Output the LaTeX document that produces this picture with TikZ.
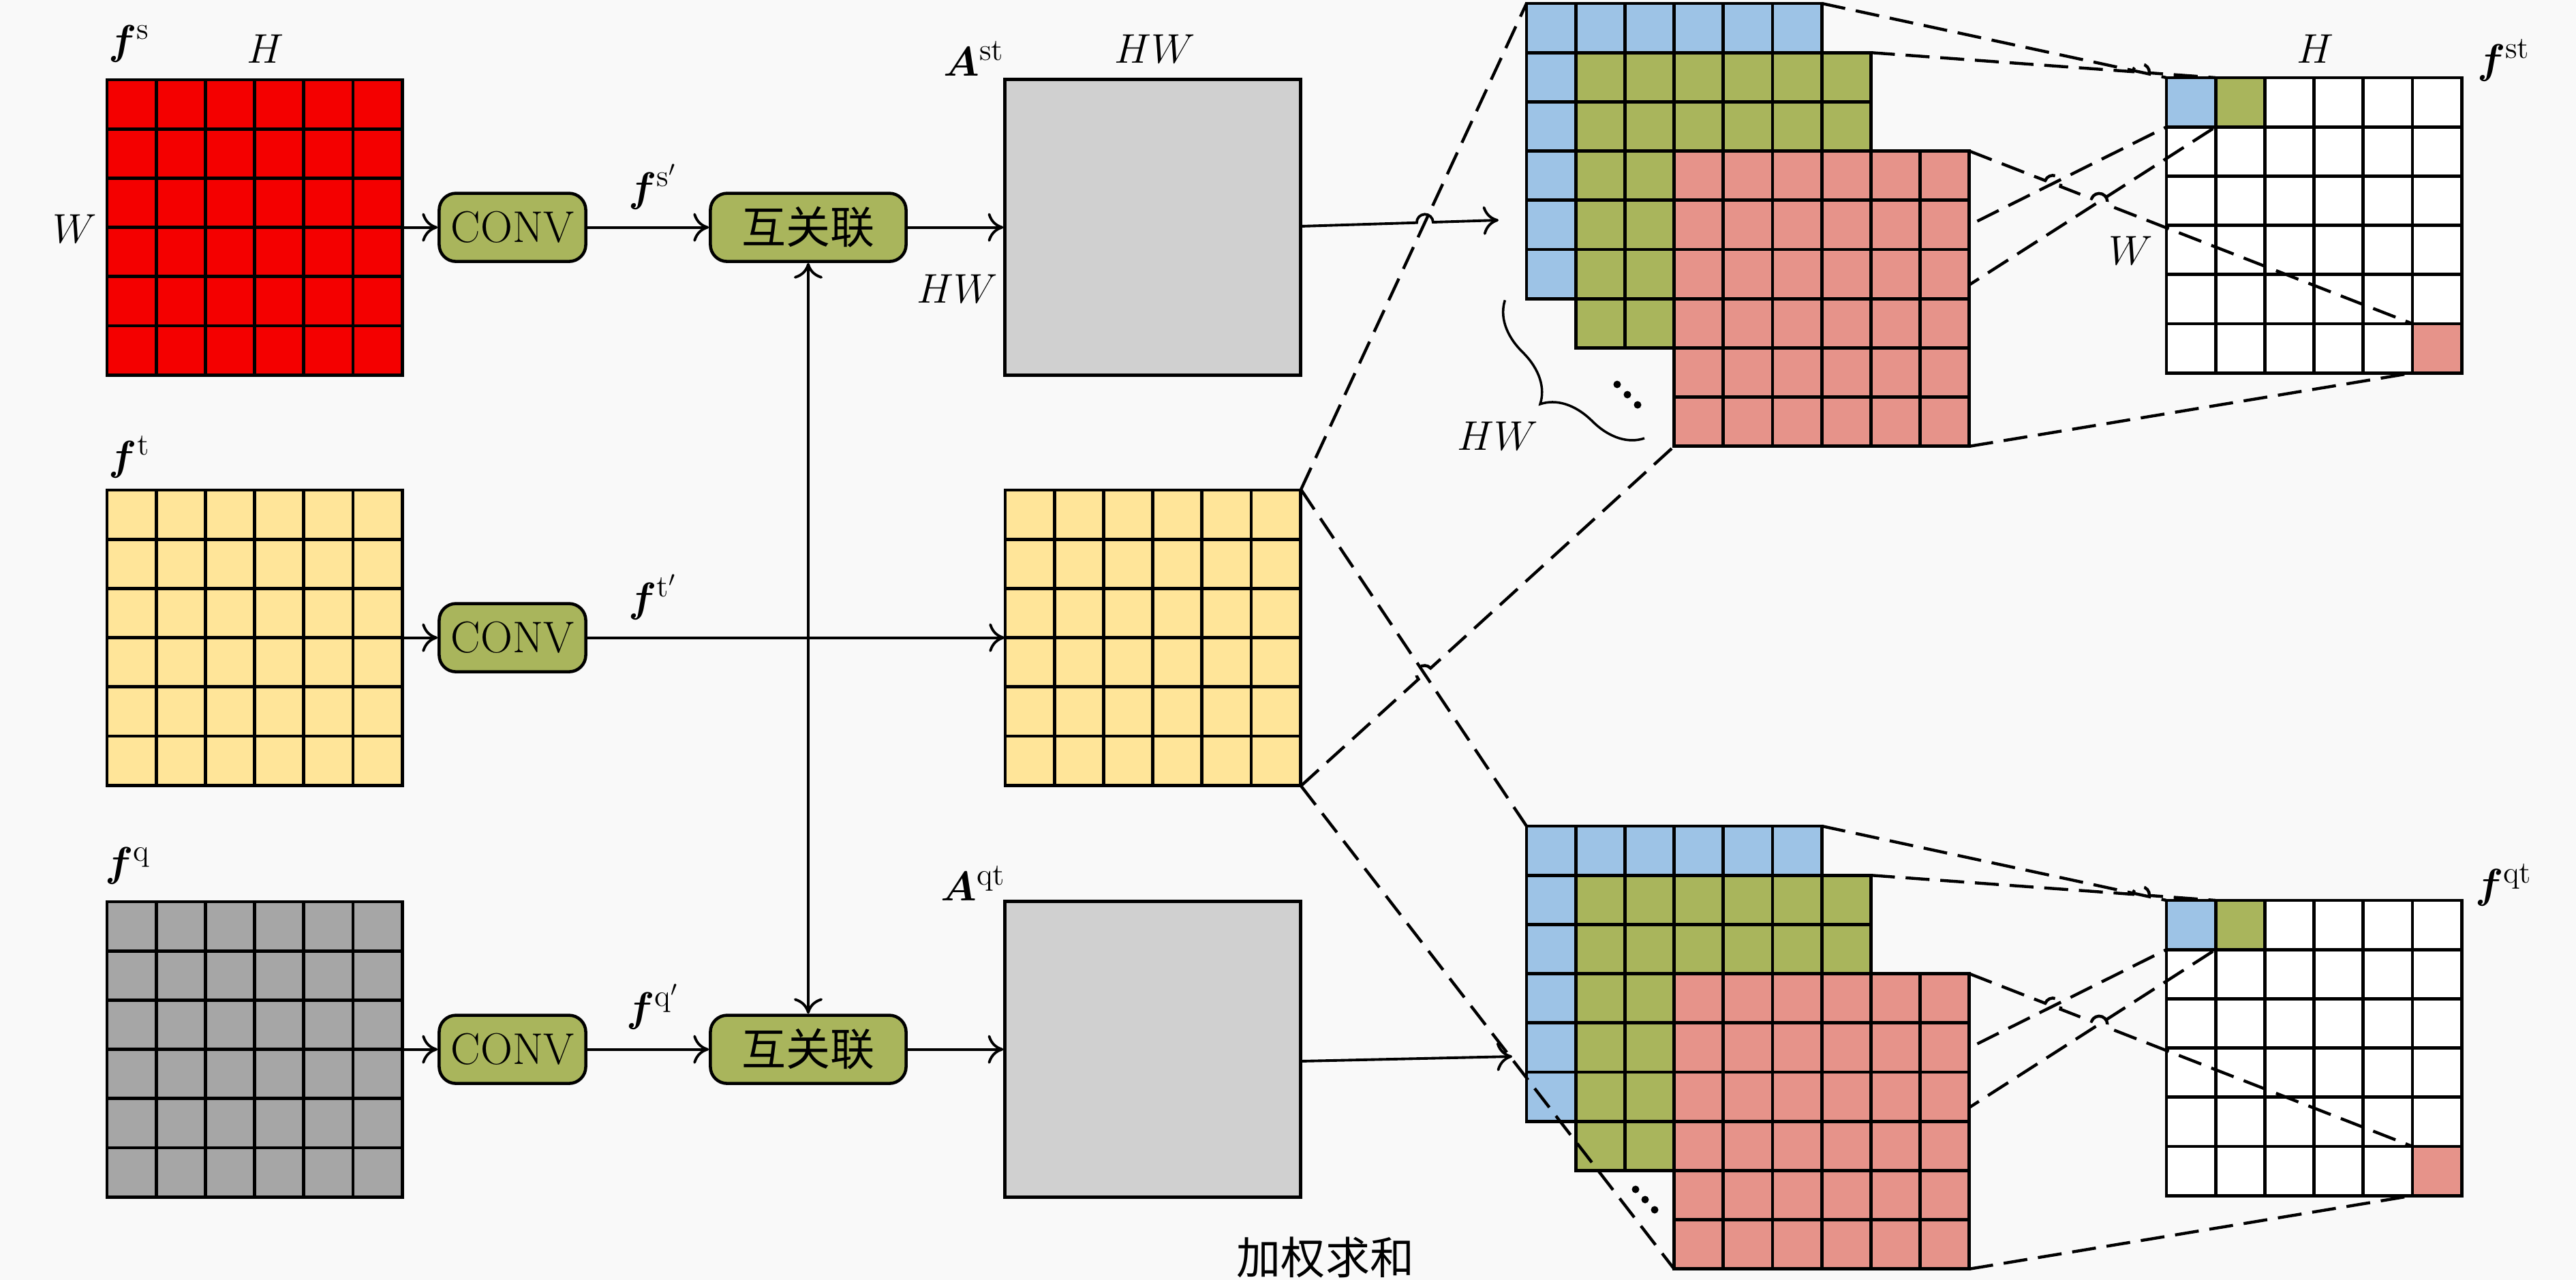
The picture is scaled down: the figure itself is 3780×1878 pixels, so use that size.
\documentclass[tikz,border=0pt]{standalone}
\usepackage{fontspec}
\usepackage{amsmath}
\usepackage{bm}
\usetikzlibrary{arrows.meta,calc,decorations.pathreplacing}
\newfontfamily\cjk{Noto Sans CJK SC}
\newcommand\lblsize{\fontsize{18.5}{22}\selectfont}
\definecolor{cred}{HTML}{F40000}
\definecolor{cyellow}{HTML}{FFE599}
\definecolor{cgray}{HTML}{A6A6A6}
\definecolor{cbox}{HTML}{D0D0D0}
\definecolor{cblue}{HTML}{9DC3E6}
\definecolor{cgreen}{HTML}{A9B55C}
\definecolor{csalmon}{HTML}{E6938A}
\definecolor{cbg}{HTML}{F9F9F9}
\tikzset{
  cellline/.style={line width=1.4pt, draw=black},
  conn/.style={line width=1.1pt, -{To[length=6.5pt,width=12pt]}},
  bconn/.style={line width=1.1pt, {To[length=6.5pt,width=12pt]}-{To[length=6.5pt,width=12pt]}},
  dline/.style={line width=1.25pt, dash pattern=on 10pt off 4.5pt},
  procbox/.style={draw, line width=1.3pt, fill=cgreen, rounded corners=7pt,
    minimum width=2.15cm, minimum height=1.0cm, inner sep=0pt, font=\lblsize},
  lbl/.style={font=\lblsize, inner sep=0pt},
  gridframe/.style={inner sep=0pt, minimum width=4.332cm, minimum height=4.332cm},
}
\newcommand\mygrid[5]{%
  \foreach \gi in {1,...,#3}{\foreach \gj in {1,...,#4}{%
    \draw[cellline, fill=#5] ({#1+(\gi-1)*72.2},{#2+(\gj-1)*72.2}) rectangle ++(72.2,72.2);}}}
\newcommand\hopone[4]{\draw[#1] let \p1=($(#4)-(#2)$), \n1={atan2(\y1,\x1)} in
  (#2) -- ($(#3)!0.12cm!(#2)$) arc[start angle=\n1+180, delta angle=-180, radius=0.12cm] -- (#4);}
\newcommand\hoptwo[5]{\draw[#1] let \p1=($(#5)-(#2)$), \n1={atan2(\y1,\x1)} in
  (#2) -- ($(#3)!0.12cm!(#2)$) arc[start angle=\n1+180, delta angle=-180, radius=0.12cm]
  -- ($(#4)!0.12cm!(#2)$) arc[start angle=\n1+180, delta angle=-180, radius=0.12cm] -- (#5);}
\begin{document}
\begin{tikzpicture}[x=0.01cm, y=-0.01cm]
\useasboundingbox (0,0) rectangle (3780,1878);
\fill[cbg] (0,0) rectangle (3780,1878);

% left input grids
\mygrid{157}{117}{6}{6}{cred}
\mygrid{157}{719}{6}{6}{cyellow}
\mygrid{157}{1323}{6}{6}{cgray}
\node[gridframe] (fsg) at (373.6,333.6) {};
\node[gridframe] (ftg) at (373.6,935.6) {};
\node[gridframe] (fqg) at (373.6,1539.6) {};

% middle column
\node[gridframe, cellline, fill=cbox] (Ast) at (1691.6,333.6) {};
\mygrid{1475}{719}{6}{6}{cyellow}
\node[gridframe] (y2g) at (1691.6,935.6) {};
\node[gridframe, cellline, fill=cbox] (Aqt) at (1691.6,1539.6) {};

% right output grids
\mygrid{3179}{114}{6}{6}{white}
\draw[cellline, fill=cblue] (3179,114) rectangle ++(72.2,72.2);
\draw[cellline, fill=cgreen] (3251.2,114) rectangle ++(72.2,72.2);
\draw[cellline, fill=csalmon] (3540,475) rectangle ++(72.2,72.2);
\mygrid{3179}{1321}{6}{6}{white}
\draw[cellline, fill=cblue] (3179,1321) rectangle ++(72.2,72.2);
\draw[cellline, fill=cgreen] (3251.2,1321) rectangle ++(72.2,72.2);
\draw[cellline, fill=csalmon] (3540,1682) rectangle ++(72.2,72.2);

% stacked blocks and their projections
\foreach \pre/\dy in {u/0,l/1207}{
  \coordinate (\pre bTL) at (2240,{5+\dy});
  \coordinate (\pre bTR) at (2673.2,{5+\dy});
  \coordinate (\pre bBR) at (2673.2,{438.2+\dy});
  \coordinate (\pre gTR) at (2745.4,{77.2+\dy});
  \coordinate (\pre gBR) at (2745.4,{510.4+\dy});
  \coordinate (\pre rTR) at (2889.8,{221.6+\dy});
  \coordinate (\pre rBR) at (2889.8,{654.8+\dy});
  \coordinate (\pre rBL) at (2456.6,{654.8+\dy});
  \coordinate (\pre cA) at (3179,{114+\dy});
  \coordinate (\pre cB) at (3179,{186.2+\dy});
  \coordinate (\pre cC) at (3251.2,{114+\dy});
  \coordinate (\pre cD) at (3251.2,{186.2+\dy});
  \coordinate (\pre cE) at (3540,{475+\dy});
  \coordinate (\pre cF) at (3540,{547.2+\dy});
  \coordinate (\pre X1) at (intersection of \pre gTR--\pre cC and \pre bTR--\pre cA);
  \coordinate (\pre X2) at (intersection of \pre rTR--\pre cE and \pre bBR--\pre cB);
  \coordinate (\pre X3) at (intersection of \pre rTR--\pre cE and \pre gBR--\pre cD);
  \draw[dline] (\pre bTR) -- (\pre cA);
  \hopone{dline}{\pre gTR}{\pre X1}{\pre cC}
  \draw[dline] (\pre bBR) -- (\pre cB);
  \draw[dline] (\pre gBR) -- (\pre cD);
  \hoptwo{dline}{\pre rTR}{\pre X2}{\pre X3}{\pre cE}
  \draw[dline] (\pre rBR) -- (\pre cF);
  \mygrid{2240}{5+\dy}{6}{6}{cblue}
  \mygrid{2312.2}{77.2+\dy}{6}{6}{cgreen}
  \mygrid{2456.6}{221.6+\dy}{6}{6}{csalmon}
}

% dashed lines from the middle yellow grid
\coordinate (yTR) at (y2g.north east);
\coordinate (yBR) at (y2g.south east);
\coordinate (hopB) at (intersection of yBR--urBL and yTR--lbTL);
\draw[dline] (yTR) -- (ubTL);
\draw[dline] (yTR) -- (lbTL);
\hopone{dline}{yBR}{hopB}{urBL}
\draw[dline] (yBR) -- (lrBL);

% process boxes
\node[procbox] (conv1) at (752,333.6) {CONV};
\node[procbox] (conv2) at (752,935.6) {CONV};
\node[procbox] (conv3) at (752,1539.6) {CONV};
\node[procbox, minimum width=2.87cm] (corr1) at (1186,333.6) {\cjk 互关联};
\node[procbox, minimum width=2.87cm] (corr2) at (1186,1539.6) {\cjk 互关联};

% connectors
\draw[conn] (fsg.east) -- (conv1.west);
\draw[conn] (conv1.east) -- (corr1.west);
\draw[conn] (corr1.east) -- (Ast.west);
\draw[conn] (ftg.east) -- (conv2.west);
\draw[conn] (conv2.east) -- (y2g.west);
\draw[conn] (fqg.east) -- (conv3.west);
\draw[conn] (conv3.east) -- (corr2.west);
\draw[conn] (corr2.east) -- (Aqt.west);
\draw[bconn] (corr1.south) -- (corr2.north);
\coordinate (r1s) at (1908.2,332);
\coordinate (r1e) at (2199,323);
\coordinate (hopA) at (intersection of r1s--r1e and yTR--ubTL);
\hopone{conn}{r1s}{hopA}{r1e}
\coordinate (r3s) at (1908.2,1557);
\coordinate (r3e) at (2219,1550);
\draw[conn] (r3s) -- (r3e);

% brace and dots
\coordinate (brA) at (2413,643);
\coordinate (brB) at (2208,440);
\draw[line width=1pt, decorate, decoration={brace, amplitude=0.72cm}] (brA) -- (brB);
\foreach \dx/\dyy in {2373/564, 2388/579, 2403/594, 2400/1745, 2414/1760, 2428/1775}
  \fill (\dx,\dyy) circle[radius=0.055cm];

% labels
\node[lbl] (lfs) at (190,64) {$\bm{f}^{\mathrm{s}}$};
\node[lbl] (lH1) at (389,72) {$H$};
\node[lbl] (lW1) at (110,336) {$W$};
\node[lbl] (lft) at (190,670) {$\bm{f}^{\mathrm{t}}$};
\node[lbl] (lfq) at (188,1270) {$\bm{f}^{\mathrm{q}}$};
\node[lbl] (lfs2) at (958,274) {$\bm{f}^{\mathrm{s}'}$};
\node[lbl] (lft2) at (958,876) {$\bm{f}^{\mathrm{t}'}$};
\node[lbl] (lfq2) at (958,1477) {$\bm{f}^{\mathrm{q}'}$};
\node[lbl] (lAst) at (1429,86) {$\bm{A}^{\mathrm{st}}$};
\node[lbl] (lHW1) at (1695,72) {$HW$};
\node[lbl] (lHW2) at (1405,424) {$HW$};
\node[lbl] (lAqt) at (1428,1296) {$\bm{A}^{\mathrm{qt}}$};
\node[lbl] (lHW3) at (2198,640) {$HW$};
\node[lbl] (lH2) at (3397,72) {$H$};
\node[lbl] (lW2) at (3127,368) {$W$};
\node[lbl] (lfst) at (3674,88) {$\bm{f}^{\mathrm{st}}$};
\node[lbl] (lfqt) at (3674,1298) {$\bm{f}^{\mathrm{qt}}$};
\node[lbl] (lsum) at (1945,1845) {\cjk 加权求和};
\end{tikzpicture}
\end{document}
